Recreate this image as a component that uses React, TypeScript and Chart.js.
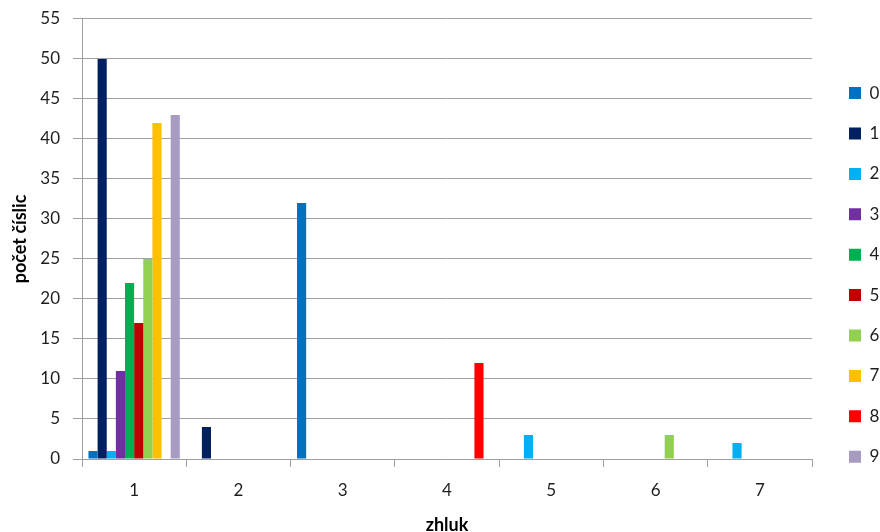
import React, { useEffect, useRef } from "react";
import { Chart, registerables } from "chart.js";

Chart.register(...registerables);

// Cluster labels on the x axis
const clusters = ["1", "2", "3", "4", "5", "6", "7"];

// Digit counts per cluster, one array per digit
const digit0 = [1, 0, 32, 0, 0, 0, 0];
const digit1 = [50, 4, 0, 0, 0, 0, 0];
const digit2 = [1, 0, 0, 0, 3, 0, 2];
const digit3 = [11, 0, 0, 0, 0, 0, 0];
const digit4 = [22, 0, 0, 0, 0, 0, 0];
const digit5 = [17, 0, 0, 0, 0, 0, 0];
const digit6 = [25, 0, 0, 0, 0, 3, 0];
const digit7 = [42, 0, 0, 0, 0, 0, 0];
const digit8 = [0, 0, 0, 12, 0, 0, 0];
const digit9 = [43, 0, 0, 0, 0, 0, 0];

const seriesNames = ["0", "1", "2", "3", "4", "5", "6", "7", "8", "9"];
const seriesValues = [digit0, digit1, digit2, digit3, digit4, digit5, digit6, digit7, digit8, digit9];
const seriesColors = [
  "#0070C0",
  "#002060",
  "#00B0F0",
  "#7030A0",
  "#00B050",
  "#C00000",
  "#92D050",
  "#FFC000",
  "#FF0000",
  "#A79BC2",
];

// y axis range and step
const yMin = 0;
const yMax = 55;
const yStep = 5;

const GRID = "#a0a0a0";
const TEXT = "#1e1e1e";
const FONT = "Lato, 'Open Sans', sans-serif";

export default function App() {
  const canvasRef = useRef<HTMLCanvasElement | null>(null);

  useEffect(() => {
    let chart: Chart | null = null;
    let cancelled = false;

    const build = () => {
      if (cancelled || !canvasRef.current) return;
      Chart.defaults.font.family = FONT;
      chart = new Chart(canvasRef.current, {
        type: "bar",
        data: {
          labels: clusters,
          datasets: seriesNames.map((name, i) => ({
            label: name,
            data: seriesValues[i],
            backgroundColor: seriesColors[i],
            borderWidth: 0,
            categoryPercentage: 0.876,
            barPercentage: 1,
          })),
        },
        options: {
          responsive: false,
          animation: false,
          layout: { padding: 0 },
          plugins: {
            tooltip: { enabled: false },
            legend: {
              position: "right",
              maxWidth: 54.4,
              title: {
                display: true,
                text: " ",
                padding: 0,
                font: { size: 8, lineHeight: 2.225 },
              },
              labels: {
                boxWidth: 12,
                boxHeight: 12,
                padding: 23.4,
                color: TEXT,
                font: { size: 17, family: FONT },
              },
            },
          },
          scales: {
            x: {
              grid: {
                display: true,
                drawOnChartArea: false,
                drawTicks: true,
                tickLength: 8,
                color: GRID,
                offset: true,
              },
              border: { display: true, color: GRID },
              ticks: { color: TEXT, padding: 13, font: { size: 17, family: FONT } },
              title: {
                display: true,
                text: "zhluk",
                color: "#000",
                font: { size: 18, weight: "bold", family: FONT, lineHeight: 0.78 },
                padding: 0,
              },
              afterFit: (s: any) => {
                s.height = 73;
              },
            },
            y: {
              min: yMin,
              max: yMax,
              ticks: {
                stepSize: yStep,
                color: TEXT,
                padding: 13,
                font: { size: 17, family: FONT, lineHeight: 0.7 },
              },
              grid: { color: GRID, tickLength: 9, drawTicks: true },
              border: { display: true, color: GRID },
              title: {
                display: true,
                text: "počet číslic",
                color: "#000",
                font: { size: 18, weight: "bold", family: FONT, lineHeight: 1.2 },
                padding: { top: 9, bottom: 0 },
              },
              afterFit: (s: any) => {
                s.width = 82;
              },
            },
            // spacer between the plot and the legend
            gap: {
              type: "linear",
              position: "right",
              display: true,
              grid: { display: false, drawTicks: false },
              ticks: { display: false },
              border: { display: false },
              afterFit: (s: any) => {
                s.width = 13.6;
              },
            },
          },
        },
      } as any);
    };

    const fontsReady = (document as any).fonts
      ? Promise.all([
          (document as any).fonts.load("17px Lato"),
          (document as any).fonts.load("bold 18px Lato"),
        ]).catch(() => null)
      : Promise.resolve(null);
    fontsReady.then(build);

    return () => {
      cancelled = true;
      if (chart) chart.destroy();
    };
  }, []);

  return (
    <div style={{ position: "absolute", left: 0, top: 0, width: 880, height: 532, background: "#fff" }}>
      <canvas ref={canvasRef} width={880} height={532} />
    </div>
  );
}
